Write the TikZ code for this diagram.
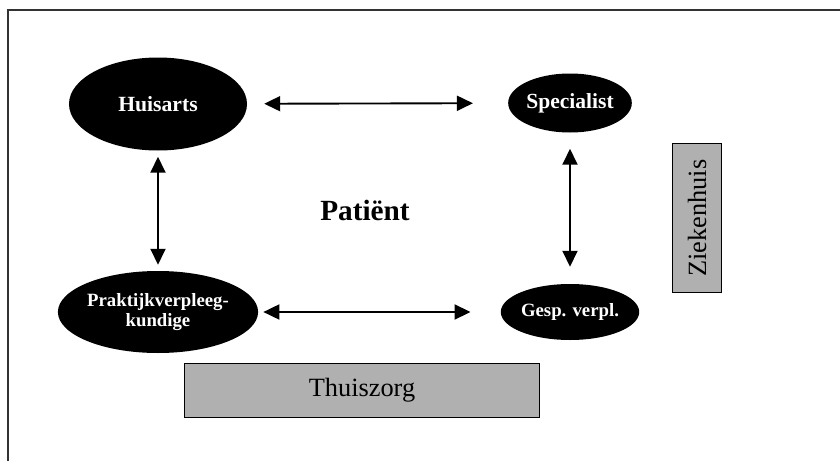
\documentclass[tikz,border=0pt]{standalone}
\usepackage{fontspec}
\setmainfont{Liberation Serif}
\usetikzlibrary{shapes.geometric, arrows.meta, positioning}

\begin{document}
\begin{tikzpicture}[
      x=0.3mm, y=-0.3mm,
      actor/.style={
          ellipse,
          fill=black,
          text=white,
          align=center,
          inner sep=0pt,
          font=\bfseries
        },
      setting/.style={
          rectangle,
          draw,
          thick,
          fill=gray!62,
          inner sep=0pt,
          font=\fontsize{22.5}{24}\selectfont
        },
      arrow/.style={
          {Triangle[length=4.8mm,width=4.5mm]}-{Triangle[length=4.8mm,width=4.5mm]},
          line width=1.6pt
        }
    ]
    \useasboundingbox (0,0) rectangle (840,461);

    % Frame
    \draw[line width=1pt, gray!40!black] (8,461) -- (8,10) -- (840,10);

    % Huisarts and ziekenhuis
    \node[actor, minimum width=53.4mm, minimum height=27.9mm,
          font=\bfseries\fontsize{18.5}{20}\selectfont] (huisarts) at (158,104) {Huisarts};
    \node[actor, minimum width=33.9mm, minimum height=17.7mm,
          font=\bfseries\fontsize{18.4}{20}\selectfont] (specialist) at (570,103) {Specialist};

    % Verpleging
    \node[actor, minimum width=50.1mm, minimum height=24.6mm,
          font=\bfseries\fontsize{16}{16.5}\selectfont] (praktijk) at (158,312) {Praktijkverpleeg-\\kundige};
    \node[actor, minimum width=30mm, minimum height=16.8mm,
          font=\bfseries\fontsize{16}{18}\selectfont] (gesp) at (570,312) {Gesp. verpl.};

    % Patient
    \node[font=\bfseries\fontsize{25}{28}\selectfont] (patient) at (365,210) {Patiënt};

    % Settings
    \node[setting, minimum width=106.5mm, minimum height=16.2mm] (thuiszorg) at (362,390) {Thuiszorg};
    \node[setting, rotate=90, minimum width=44.7mm, minimum height=14.7mm] (ziekenhuis) at (697,218) {Ziekenhuis};

    % Arrows
    \draw[arrow, shorten <=5.1mm, shorten >=10.5mm] (huisarts) -- (specialist);
    \draw[arrow, shorten <=1.8mm, shorten >=1.8mm] (huisarts) -- (praktijk);
    \draw[arrow, shorten <=4.8mm, shorten >=5.1mm] (specialist) -- (gesp);
    \draw[arrow, shorten <=1.5mm, shorten >=9mm] (praktijk) -- (gesp);
  \end{tikzpicture}
\end{document}
